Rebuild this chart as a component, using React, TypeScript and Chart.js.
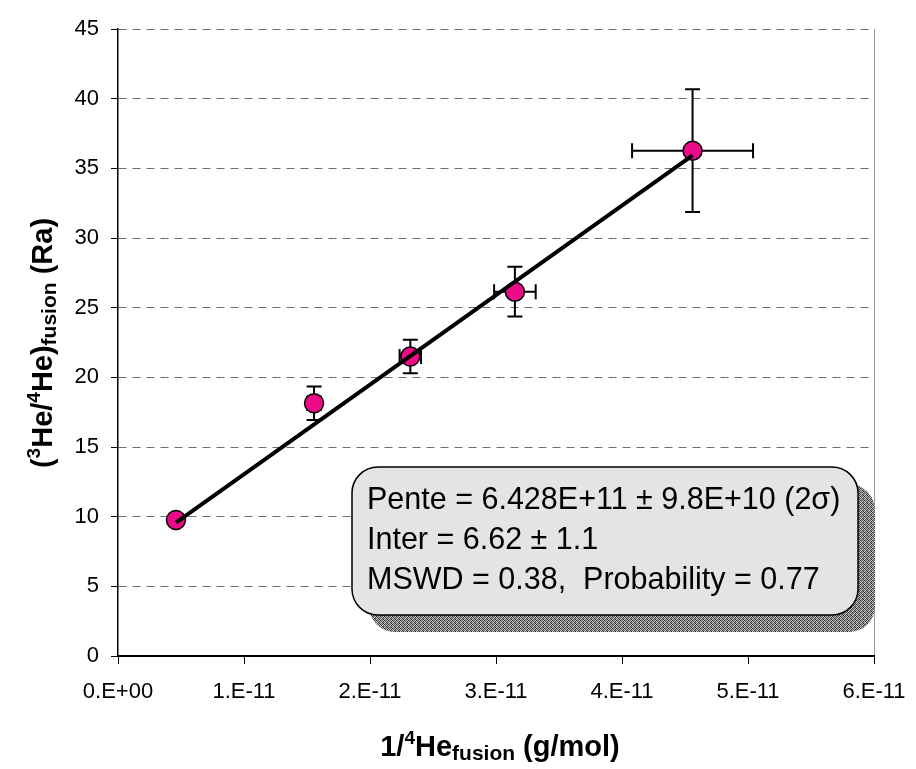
import React, { useEffect, useRef } from 'react';
import { Chart, registerables } from 'chart.js';

Chart.register(...registerables);

// ---- data ----
const xValues = [0.46e-11, 1.556e-11, 2.32e-11, 3.15e-11, 4.56e-11];
const yValues = [9.76, 18.14, 21.49, 26.15, 36.27];
const xErrors = [0.03e-11, 0.055e-11, 0.085e-11, 0.165e-11, 0.48e-11];
const yErrors = [0.3, 1.2, 1.2, 1.78, 4.4];
const fitX = [0.46e-11, 4.56e-11];
const fitY = [9.58, 35.93];
const xTickValues = [0, 1e-11, 2e-11, 3e-11, 4e-11, 5e-11, 6e-11];
const xTickLabels = ['0.E+00', '1.E-11', '2.E-11', '3.E-11', '4.E-11', '5.E-11', '6.E-11'];
const yMin = 0;
const yMax = 45;
const yStep = 5;
const boxLines = [
  'Pente = 6.428E+11 \u00b1 9.8E+10 (2\u03c3)',
  'Inter = 6.62 \u00b1 1.1',
  'MSWD = 0.38,  Probability = 0.77',
];

const FONT = '"Liberation Sans", Arial, Helvetica, sans-serif';

type Seg = { t: string; size: number; dy: number };

const xTitle: Seg[] = [
  { t: '1/', size: 29, dy: 0 },
  { t: '4', size: 19, dy: -12 },
  { t: 'He', size: 29, dy: 0 },
  { t: 'fusion', size: 21, dy: 4 },
  { t: ' (g/mol)', size: 29, dy: 0 },
];
const yTitle: Seg[] = [
  { t: '(', size: 29, dy: 0 },
  { t: '3', size: 19, dy: -12 },
  { t: 'He/', size: 29, dy: 0 },
  { t: '4', size: 19, dy: -12 },
  { t: 'He)', size: 29, dy: 0 },
  { t: 'fusion', size: 21, dy: 4 },
  { t: ' (Ra)', size: 29, dy: 0 },
];

function drawSegs(ctx: CanvasRenderingContext2D, segs: Seg[], cx: number, baseline: number) {
  let total = 0;
  for (const s of segs) {
    ctx.font = `bold ${s.size}px ${FONT}`;
    total += ctx.measureText(s.t).width;
  }
  let x = cx - total / 2;
  ctx.textAlign = 'left';
  ctx.textBaseline = 'alphabetic';
  ctx.fillStyle = '#000';
  for (const s of segs) {
    ctx.font = `bold ${s.size}px ${FONT}`;
    ctx.fillText(s.t, x, baseline + s.dy);
    x += ctx.measureText(s.t).width;
  }
}

const errorBarPlugin = {
  id: 'errorBars',
  beforeDatasetsDraw(chart: any) {
    const { ctx, scales } = chart;
    const xs = scales.x;
    const ys = scales.y;
    ctx.save();
    ctx.strokeStyle = '#000';
    ctx.lineWidth = 2;
    const cap = 7.5;
    for (let i = 0; i < xValues.length; i++) {
      const px = xs.getPixelForValue(xValues[i]);
      const py = ys.getPixelForValue(yValues[i]);
      const yt = ys.getPixelForValue(yValues[i] + yErrors[i]);
      const yb = ys.getPixelForValue(yValues[i] - yErrors[i]);
      const xl = xs.getPixelForValue(xValues[i] - xErrors[i]);
      const xr = xs.getPixelForValue(xValues[i] + xErrors[i]);
      ctx.beginPath();
      ctx.moveTo(px, yt); ctx.lineTo(px, yb);
      ctx.moveTo(px - cap, yt); ctx.lineTo(px + cap, yt);
      ctx.moveTo(px - cap, yb); ctx.lineTo(px + cap, yb);
      ctx.moveTo(xl, py); ctx.lineTo(xr, py);
      ctx.moveTo(xl, py - cap); ctx.lineTo(xl, py + cap);
      ctx.moveTo(xr, py - cap); ctx.lineTo(xr, py + cap);
      ctx.stroke();
    }
    ctx.restore();
  },
};

function makePattern(ctx: CanvasRenderingContext2D) {
  const c = document.createElement('canvas');
  c.width = 4; c.height = 4;
  const g = c.getContext('2d')!;
  const shades = [
    [40, 170, 90, 200],
    [190, 70, 210, 60],
    [100, 220, 50, 150],
    [210, 80, 160, 40],
  ];
  for (let r = 0; r < 4; r++) {
    for (let q = 0; q < 4; q++) {
      const v = shades[r][q];
      g.fillStyle = `rgb(${v},${v},${v})`;
      g.fillRect(q, r, 1, 1);
    }
  }
  return ctx.createPattern(c, 'repeat');
}

const overlayPlugin = {
  id: 'overlay',
  afterDraw(chart: any) {
    const { ctx } = chart;
    ctx.save();
    // annotation box
    const bx = 352, by = 467, bw = 506, bh = 148, r = 26, off = 17;
    const pat = makePattern(ctx);
    ctx.beginPath();
    ctx.roundRect(bx + off, by + off, bw, bh, r);
    ctx.fillStyle = pat || '#888';
    ctx.fill();
    ctx.beginPath();
    ctx.roundRect(bx, by, bw, bh, r);
    ctx.fillStyle = '#E4E4E4';
    ctx.fill();
    ctx.lineWidth = 1.5;
    ctx.strokeStyle = '#000';
    ctx.stroke();
    ctx.fillStyle = '#000';
    ctx.font = `30.5px ${FONT}`;
    ctx.textAlign = 'left';
    ctx.textBaseline = 'alphabetic';
    boxLines.forEach((l, i) => {
      ctx.fillText(l, 367, 509 + i * 40);
    });
    // axis titles
    drawSegs(ctx, xTitle, 500, 756);
    ctx.translate(52, 343);
    ctx.rotate(-Math.PI / 2);
    drawSegs(ctx, yTitle, 0, 0);
    ctx.restore();
  },
};

export default function App() {
  const ref = useRef<HTMLCanvasElement>(null);
  useEffect(() => {
    if (!ref.current) return;
    const chart = new Chart(ref.current, {
      type: 'scatter',
      data: {
        datasets: [
          {
            type: 'line',
            label: 'fit',
            data: fitX.map((x, i) => ({ x, y: fitY[i] })),
            borderColor: '#000',
            borderWidth: 4,
            pointRadius: 0,
            fill: false,
            order: 0,
          } as any,
          {
            label: 'data',
            data: xValues.map((x, i) => ({ x, y: yValues[i] })),
            backgroundColor: '#EB0A87',
            borderColor: '#000',
            borderWidth: 1.5,
            pointRadius: 9.5,
            order: 1,
          },
        ],
      },
      options: {
        responsive: false,
        animation: false,
        devicePixelRatio: 1,
        layout: { padding: { top: 29, right: 42, left: 0, bottom: 0 } },
        plugins: { legend: { display: false }, tooltip: { enabled: false } },
        scales: {
          x: {
            type: 'linear',
            min: xTickValues[0],
            max: xTickValues[xTickValues.length - 1],
            afterBuildTicks: (scale: any) => {
              scale.ticks = xTickValues.map((v) => ({ value: v }));
            },
            afterFit: (scale: any) => {
              scale.height = 113;
              scale.paddingLeft = 0;
              scale.paddingRight = 0;
            },
            ticks: {
              callback: (_v: any, i: number) => xTickLabels[i],
              font: { family: FONT, size: 22 },
              color: '#000',
              padding: 15,
              maxRotation: 0,
              autoSkip: false,
            },
            grid: {
              drawOnChartArea: true,
              color: (c: any) => (c.index === xTickValues.length - 1 ? '#999' : 'rgba(0,0,0,0)'),
              tickColor: '#000',
              tickLength: 8,
              lineWidth: 1,
            },
            border: { color: '#000', width: 2 },
          },
          y: {
            type: 'linear',
            min: yMin,
            max: yMax,
            afterFit: (scale: any) => {
              scale.width = 118;
              scale.paddingTop = 0;
              scale.paddingBottom = 0;
            },
            ticks: {
              stepSize: yStep,
              font: { family: FONT, size: 22 },
              color: '#000',
              padding: 12,
            },
            grid: {
              color: (c: any) => (c.tick && c.tick.value === 0 ? 'rgba(0,0,0,0)' : '#6e6e6e'),
              tickColor: '#000',
              tickLength: 7,
              lineWidth: 1,
              tickBorderDash: [],
            },
            border: { color: '#000', width: 1.5, dash: [8, 6] },
          },
        },
      },
      plugins: [errorBarPlugin, overlayPlugin],
    });
    return () => chart.destroy();
  }, []);
  return (
    <div style={{ position: 'absolute', left: 0, top: 0, width: 916, height: 769, background: '#fff' }}>
      <canvas ref={ref} width={916} height={769} />
    </div>
  );
}
